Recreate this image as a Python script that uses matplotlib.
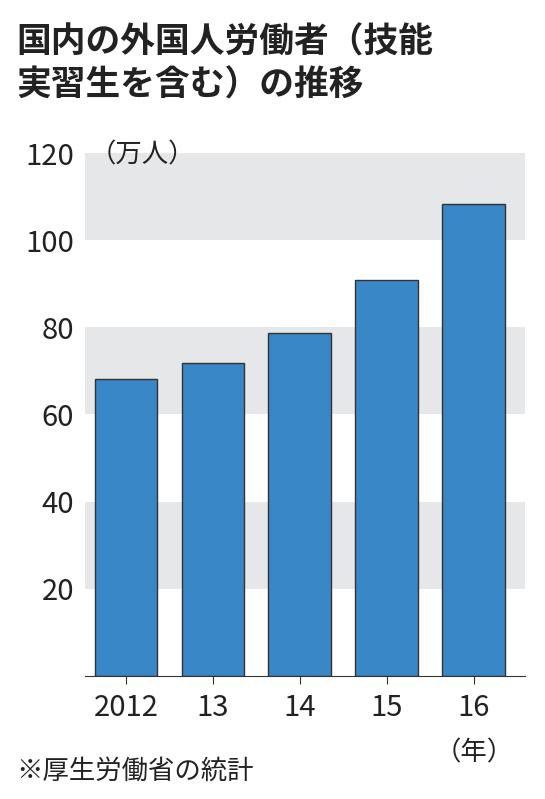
import matplotlib
matplotlib.use("Agg")
import matplotlib.pyplot as plt

plt.rcParams['font.family'] = ['Noto Sans CJK JP', 'DejaVu Sans']

years = ["2012", "13", "14", "15", "16"]
workers = [68.2, 71.7, 78.8, 90.8, 108.4]
yticks = [20, 40, 60, 80, 100, 120]

fig = plt.figure(figsize=(5.45, 7.99), dpi=100)
ax = fig.add_axes([0.156, 0.154, 0.807, 0.6545])
for lo, hi in [(20, 40), (60, 80), (100, 120)]:
    ax.axhspan(lo, hi, color='#e6e7e8', zorder=0, lw=0)
ax.bar(range(len(years)), workers, width=0.72, color='#3a87c8',
       edgecolor='#333333', linewidth=1.0, zorder=2)
ax.set_xlim(-0.47, 4.59)
ax.set_ylim(0, 120)
ax.set_yticks(yticks)
ax.set_yticklabels([str(v) for v in yticks], fontsize=21, color='#222222')
ax.set_xticks(range(len(years)))
ax.set_xticklabels(years, fontsize=21, color='#222222')
for s in ['top', 'right', 'left']:
    ax.spines[s].set_visible(False)
ax.spines['bottom'].set_color('#333333')
ax.tick_params(axis='y', length=0, pad=8)
ax.tick_params(axis='x', length=6, direction='out', color='#333333', pad=6)

fig.text(0.03, 0.948, "国内の外国人労働者（技能", fontsize=25, fontweight='bold', va='center', color='#222222')
fig.text(0.03, 0.893, "実習生を含む）の推移", fontsize=25, fontweight='bold', va='center', color='#222222')
fig.text(0.165, 0.806, "（万人）", fontsize=19, va='center', color='#222222')
fig.text(0.03, 0.035, "※厚生労働省の統計", fontsize=19, va='center', color='#222222')
fig.text(0.87, 0.058, "（年）", fontsize=19, va='center', ha='center', color='#222222')

fig.savefig("out.png", dpi=100)
